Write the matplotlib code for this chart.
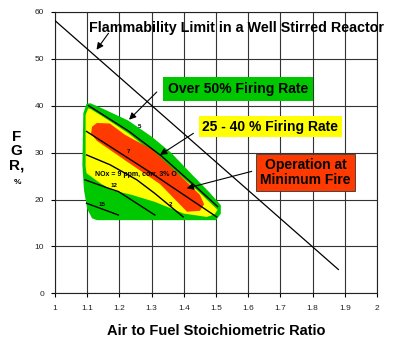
import matplotlib.pyplot as plt
from matplotlib.patches import Polygon

plt.rcParams['font.family'] = ['Liberation Sans', 'DejaVu Sans']

# Ejes
x_ticks = [1, 1.1, 1.2, 1.3, 1.4, 1.5, 1.6, 1.7, 1.8, 1.9, 2]
x_tick_labels = ['1', '1.1', '1.2', '1.3', '1.4', '1.5', '1.6', '1.7', '1.8', '1.9', '2']
y_ticks = [0, 10, 20, 30, 40, 50, 60]

# Limite de inflamabilidad
flam_x = [1.0, 1.88]
flam_y = [58.1, 5.1]

# Zona verde (> 50 %)
green_x = [1.098, 1.088, 1.085, 1.09, 1.10, 1.115, 1.13, 1.50, 1.515, 1.515, 1.48, 1.43, 1.36, 1.30, 1.228, 1.15, 1.11]
green_y = [40.4, 38.4, 27.4, 22.0, 18.0, 16.0, 15.6, 15.6, 17.0, 18.8, 21.5, 25.0, 30.0, 33.4, 36.8, 39.3, 40.5]

# Zona amarilla (25 - 40 %)
yellow_x = [1.103, 1.095, 1.095, 1.098, 1.14, 1.176, 1.238, 1.31, 1.40, 1.471, 1.495, 1.505, 1.43, 1.33, 1.228, 1.15, 1.11]
yellow_y = [39.4, 38.0, 27.0, 25.6, 23.5, 22.0, 21.0, 19.5, 17.0, 16.3, 16.8, 17.8, 22.7, 28.5, 34.1, 37.6, 39.3]

# Zona roja (minimo)
red_x = [1.115, 1.13, 1.17, 1.217, 1.30, 1.398, 1.45, 1.463, 1.45, 1.41, 1.326, 1.223, 1.13, 1.112]
red_y = [35.5, 36.3, 36.2, 33.8, 30.7, 24.5, 21.0, 19.0, 17.6, 17.4, 23.3, 28.1, 32.5, 34.0]

# Isolineas de NOx
line5_x = [1.104, 1.228, 1.33, 1.43, 1.505]
line5_y = [40.0, 34.6, 29.3, 23.2, 18.5]
line7_x = [1.098, 1.30, 1.502]
line7_y = [34.5, 25.6, 16.3]
line9_x = [1.098, 1.171, 1.254, 1.31, 1.398]
line9_y = [29.5, 27.4, 24.2, 21.3, 16.3]
line12_x = [1.093, 1.166, 1.197, 1.31]
line12_y = [24.2, 22.4, 21.7, 16.7]
line15_x = [1.098, 1.197]
line15_y = [19.2, 16.7]

fig = plt.figure(figsize=(4, 3.44), dpi=100)
ax = fig.add_axes([0.1375, 0.147, 0.805, 0.819])

ax.add_patch(Polygon(list(zip(green_x, green_y)), closed=True, color='#00c800', lw=0, joinstyle='round', zorder=2))
ax.add_patch(Polygon(list(zip(yellow_x, yellow_y)), closed=True, color='#ffff00', lw=0, zorder=3))
ax.add_patch(Polygon(list(zip(red_x, red_y)), closed=True, color='#ff3a00', lw=0, zorder=4))

for lx, ly in [(line5_x, line5_y), (line7_x, line7_y), (line9_x, line9_y),
               (line12_x, line12_y), (line15_x, line15_y)]:
    ax.plot(lx, ly, color='black', lw=1.0, zorder=5)

ax.plot(flam_x, flam_y, color='black', lw=0.9, zorder=6)

# Etiquetas de las isolineas
ax.text(1.256, 35.2, '5', fontsize=4.5, fontweight='bold', zorder=7)
ax.text(1.222, 30.0, '7', fontsize=4.5, fontweight='bold', zorder=7)
ax.text(1.251, 25.3, 'NOx = 9 ppm, corr. 3% O', fontsize=5, fontweight='bold', ha='center', va='center', zorder=7)
ax.text(1.172, 22.6, '12', fontsize=4.5, fontweight='bold', zorder=7)
ax.text(1.135, 18.6, '15', fontsize=4.5, fontweight='bold', zorder=7)
ax.text(1.355, 18.6, '2', fontsize=4.5, fontweight='bold', zorder=7)

arrow = dict(arrowstyle='-|>', color='black', lw=0.8, mutation_scale=10, shrinkA=0, shrinkB=0)

ax.text(1.565, 56.6, 'Flammability Limit in a Well Stirred Reactor', fontsize=10.3, fontweight='bold',
        ha='center', va='center', zorder=8)
ax.annotate('', xy=(1.129, 51.9), xytext=(1.166, 55.4), arrowprops=arrow, zorder=8)

ax.text(1.568, 43.5, 'Over 50% Firing Rate', fontsize=10, fontweight='bold', ha='center', va='center',
        bbox=dict(boxstyle='square,pad=0.35', fc='#00c800', ec='none'), zorder=8)
ax.annotate('', xy=(1.23, 37.0), xytext=(1.316, 42.9), arrowprops=arrow, zorder=8)

ax.text(1.668, 35.5, '25 - 40 % Firing Rate', fontsize=10, fontweight='bold', ha='center', va='center',
        bbox=dict(boxstyle='square,pad=0.25', fc='#ffff00', ec='none'), zorder=8)
ax.annotate('', xy=(1.326, 29.5), xytext=(1.43, 34.1), arrowprops=arrow, zorder=8)

ax.text(1.778, 25.8, 'Operation at\nMinimum Fire', fontsize=10, fontweight='bold', ha='center', va='center',
        linespacing=1.1, bbox=dict(boxstyle='square,pad=0.3', fc='#ff3a00', ec='#333333', lw=0.6), zorder=8)
ax.annotate('', xy=(1.409, 22.4), xytext=(1.611, 26.0), arrowprops=arrow, zorder=8)

ax.set_xlim(1, 2)
ax.set_ylim(0, 60)
ax.set_xticks(x_ticks)
ax.set_xticklabels(x_tick_labels)
ax.set_yticks(y_ticks)
ax.tick_params(labelsize=6, labelcolor='#222222', length=3, width=0.8, direction='out', pad=5)
ax.grid(True, color='#333333', lw=0.8)
ax.set_axisbelow(True)
for s in ax.spines.values():
    s.set_color('#222222')
    s.set_linewidth(0.8)

ax.set_xlabel('Air to Fuel Stoichiometric Ratio', fontsize=10.5, fontweight='bold', labelpad=9)
fig.text(0.042, 0.56, 'F\nG\nR,', fontsize=11, fontweight='bold', ha='center', va='center', linespacing=1.05)
fig.text(0.045, 0.47, '%', fontsize=6, fontweight='bold', ha='center', va='center')

fig.savefig('out.png', dpi=100)
